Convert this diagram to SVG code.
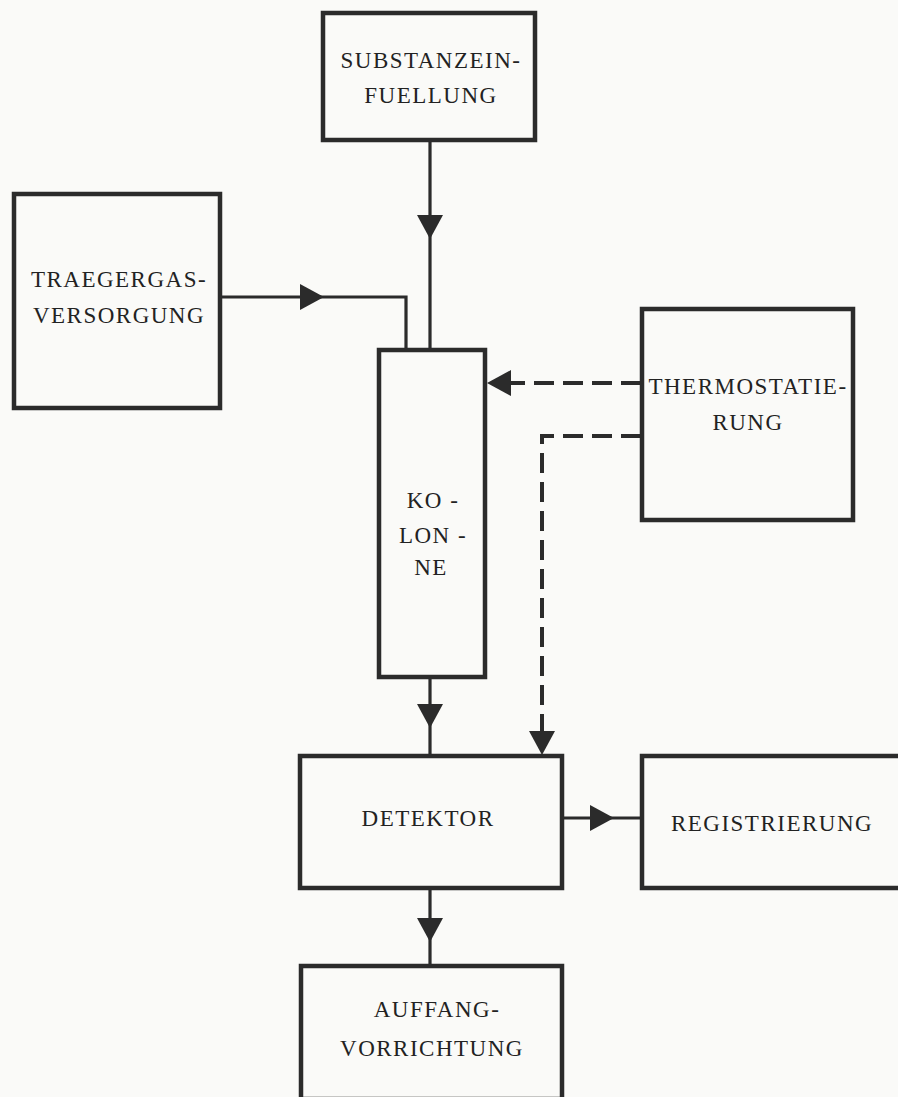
<svg xmlns="http://www.w3.org/2000/svg" xmlns:xlink="http://www.w3.org/1999/xlink" width="898" height="1097" viewBox="0 0 898 1097">
<style>
.box{fill:none;stroke:#2b2b2b;stroke-width:4.5}
.ln{fill:none;stroke:#2b2b2b;stroke-width:3.2}
.dash{fill:none;stroke:#2b2b2b;stroke-width:4;stroke-dasharray:20 9}
.ar{fill:#2b2b2b}
.t{font-family:'Liberation Serif','DejaVu Serif','Times New Roman',serif;font-size:23px;letter-spacing:1.5px;fill:#222;text-anchor:middle}
</style>
<defs>
<path id="tri" d="M0,0 L-24,-13 L-24,13 Z"/>
</defs>
<rect width="898" height="1097" fill="#fafaf8"/>
<g id="connectors">
<path class="ln" d="M430,140 V349"/>
<path class="ln" d="M220,297 H406 V349"/>
<path class="dash" d="M641,383 H492"/>
<path class="dash" d="M641,436 H542 V737"/>
<path class="ln" d="M430,677 V755"/>
<path class="ln" d="M562,818 H641"/>
<path class="ln" d="M430,888 V965"/>
<use class="ar" xlink:href="#tri" transform="translate(430,239) rotate(90)"/>
<use class="ar" xlink:href="#tri" transform="translate(324,297)"/>
<use class="ar" xlink:href="#tri" transform="translate(487,383) rotate(180)"/>
<use class="ar" xlink:href="#tri" transform="translate(542,755) rotate(90)"/>
<use class="ar" xlink:href="#tri" transform="translate(430,728) rotate(90)"/>
<use class="ar" xlink:href="#tri" transform="translate(614,818)"/>
<use class="ar" xlink:href="#tri" transform="translate(430,942) rotate(90)"/>
</g>
<g id="substanz">
<rect class="box" x="323" y="13" width="212" height="127"/>
<text class="t" x="431" y="68">SUBSTANZEIN-</text>
<text class="t" x="431" y="103">FUELLUNG</text>
</g>
<g id="traegergas">
<rect class="box" x="14" y="194" width="206" height="214"/>
<text class="t" x="119" y="287">TRAEGERGAS-</text>
<text class="t" x="119" y="323">VERSORGUNG</text>
</g>
<g id="kolonne">
<rect class="box" x="379" y="350" width="106" height="327"/>
<text class="t" x="433" y="508">KO -</text>
<text class="t" x="433" y="543">LON -</text>
<text class="t" x="431" y="575">NE</text>
</g>
<g id="thermostatierung">
<rect class="box" x="642" y="309" width="211" height="211"/>
<text class="t" x="748" y="394">THERMOSTATIE-</text>
<text class="t" x="748" y="430">RUNG</text>
</g>
<g id="detektor">
<rect class="box" x="300" y="756" width="262" height="132"/>
<text class="t" x="428" y="826">DETEKTOR</text>
</g>
<g id="registrierung">
<rect class="box" x="642" y="756" width="260" height="132"/>
<text class="t" x="772" y="831">REGISTRIERUNG</text>
</g>
<g id="auffang">
<rect class="box" x="301" y="966" width="261" height="133"/>
<text class="t" x="437" y="1017">AUFFANG-</text>
<text class="t" x="432" y="1056">VORRICHTUNG</text>
</g>
</svg>
